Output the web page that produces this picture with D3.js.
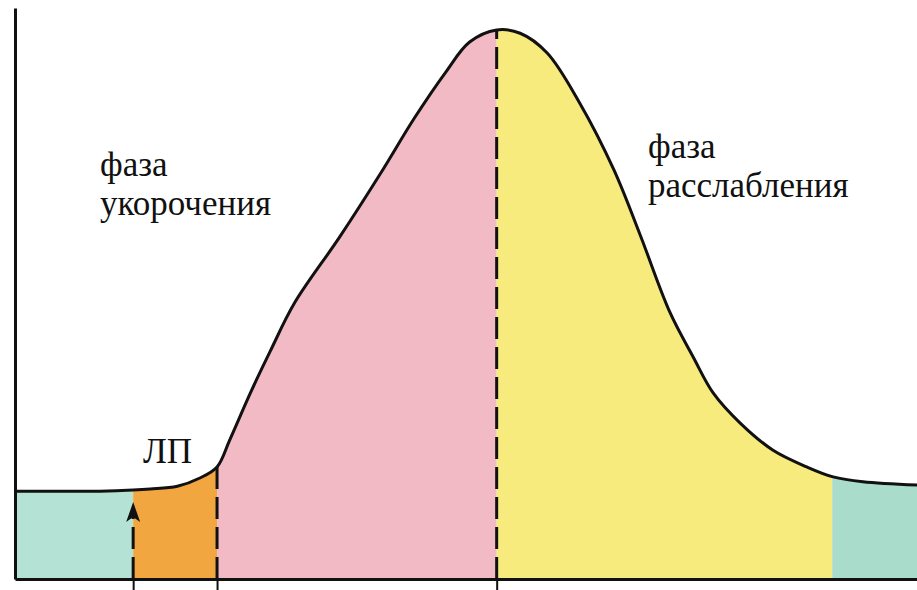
<!DOCTYPE html>
<html>
<head>
<meta charset="utf-8">
<script src="https://cdn.jsdelivr.net/npm/d3@7"></script>
<style>
    body { margin: 0; background: #ffffff; }
</style>
</head>
<body>
<div id="canvas"></div>
<script>
"use strict"

/*** DATA ***/
/* time (arbitrary units) and muscle tension (% of peak) */
const timePoints = [0, 9.4, 13.1, 15.0, 18.0, 20.5, 22.4, 23.8, 26.1, 28.3, 31.0, 36.0, 40.5, 44.3, 47.7, 50.4, 53.4,
    56.0, 59.0, 62.6, 66.4, 69.3, 72.6, 75.2, 77.4, 80.4, 84.0, 87.8, 90.7, 94.0, 100]
const tensionValues = [16.0, 16.0, 16.2, 16.4, 16.9, 18.4, 20.4, 25.3, 33.9, 41.5, 50.3, 62.3, 73.8, 84.0, 92.2, 97.8, 100,
    99.4, 95.8, 86.7, 74.5, 62.7, 48.6, 40.4, 33.9, 28.4, 23.5, 20.4, 18.6, 17.7, 17.1]

/* phases: rest, latent period (ЛП), shortening, relaxation, rest */
const phaseStarts = [0, 13.1, 22.4, 53.4, 90.6]
const phaseEnds = [13.1, 22.4, 53.4, 90.6, 100]

/* moments marked with dashed lines and ticks under the axis */
const markTimes = [13.1, 22.4, 53.4]

/* text labels */
const labelLines = [["фаза", "укорочения"], ["фаза", "расслабления"], ["ЛП"]]

/*** CANVAS SETUP ***/
let svgWidth = 917
let svgHeight = 590

let margin = {
    top: 8,
    right: 0,
    bottom: 11,
    left: 15
}

let svg = d3.select("#canvas")
    .append("svg")
    .attr("width", svgWidth)
    .attr("height", svgHeight)

let phaseColors = ["#b4e2d5", "#f1a640", "#f1bac5", "#f8eb7e", "#a9dccb"]
let inkColor = "#111111"

/*** SCALES ***/
let xScale = d3.scaleLinear()
    .domain([0, 100])
    .range([margin.left, svgWidth - margin.right])

let yScale = d3.scaleLinear()
    .domain([0, 104])                                   // a bit of headroom over the peak for the y axis
    .range([svgHeight - margin.bottom, margin.top])

let data = timePoints.map(function (t, i) {
    return { t: t, v: tensionValues[i] }
})

/* tension at any moment, linear between read points */
function tensionAt(t) {
    let i = d3.bisector(function (d) { return d.t }).left(data, t)
    if (i <= 0) return data[0].v
    if (i >= data.length) return data[data.length - 1].v
    let a = data[i - 1], b = data[i]
    return a.v + (b.v - a.v) * (t - a.t) / (b.t - a.t)
}

/*** FILLED PHASES ***/
let area = d3.area()
    .x(function (d) { return xScale(d.t) })
    .y0(yScale(0))
    .y1(function (d) { return yScale(d.v) })
    .curve(d3.curveCatmullRom.alpha(0.5))

let defs = svg.append("defs")

phaseStarts.forEach(function (start, i) {
    defs.append("clipPath")
        .attr("id", "phase" + i)
        .append("rect")
        .attr("x", xScale(start))
        .attr("y", 0)
        .attr("width", xScale(phaseEnds[i]) - xScale(start))
        .attr("height", svgHeight)

    svg.append("path")
        .datum(data)
        .attr("d", area)
        .attr("fill", phaseColors[i])
        .attr("clip-path", "url(#phase" + i + ")")
})

/*** CURVE ***/
let line = d3.line()
    .x(function (d) { return xScale(d.t) })
    .y(function (d) { return yScale(d.v) })
    .curve(d3.curveCatmullRom.alpha(0.5))

svg.append("path")
    .datum(data)
    .attr("d", line)
    .attr("fill", "none")
    .attr("stroke", inkColor)
    .attr("stroke-width", 3)

/*** DASHED MARKERS ***/
markTimes.forEach(function (t, i) {
    let top = yScale(tensionAt(t))
    if (i === 0) top = top + 12                         // arrow stops short of the curve
    svg.append("line")
        .attr("x1", xScale(t))
        .attr("x2", xScale(t))
        .attr("y1", yScale(0))
        .attr("y2", i === 0 ? top + 14 : top)
        .attr("stroke", inkColor)
        .attr("stroke-width", 3)
        .attr("stroke-dasharray", "22,8")

    if (i === 0) {
        /* arrow head */
        svg.append("path")
            .attr("d", d3.line()([[xScale(t) - 7, top + 20], [xScale(t), top], [xScale(t) + 7, top + 20], [xScale(t), top + 15]]))
            .attr("fill", inkColor)
    }
})

/*** AXES ***/
let xAxis = d3.axisBottom(xScale)
    .tickValues(markTimes)
    .tickFormat("")
    .tickSize(margin.bottom + 2)
    .tickSizeOuter(0)

let xAxisG = svg.append("g")
    .attr("transform", "translate(0," + yScale(0) + ")")
    .call(xAxis)

xAxisG.select(".domain").attr("stroke", inkColor).attr("stroke-width", 3)
xAxisG.selectAll(".tick line").attr("stroke", inkColor).attr("stroke-width", 2)

let yAxis = d3.axisLeft(yScale)
    .tickValues([])
    .tickSizeOuter(0)

let yAxisG = svg.append("g")
    .attr("transform", "translate(" + margin.left + ",0)")
    .call(yAxis)

yAxisG.select(".domain").attr("stroke", inkColor).attr("stroke-width", 3)

/*** LABELS ***/
let labelPos = [[100, 176], [648, 158], [143, 463]]

labelLines.forEach(function (lines, i) {
    let text = svg.append("text")
        .attr("x", labelPos[i][0])
        .attr("y", labelPos[i][1])
        .style("font-family", "'Liberation Serif', 'Times New Roman', Times, 'Noto Serif', 'DejaVu Serif', FreeSerif, serif")
        .style("font-size", "35px")
        .attr("fill", inkColor)

    lines.forEach(function (s, j) {
        text.append("tspan")
            .attr("x", labelPos[i][0])
            .attr("dy", j === 0 ? 0 : 39)
            .text(s)
    })
})
</script>
</body>
</html>
